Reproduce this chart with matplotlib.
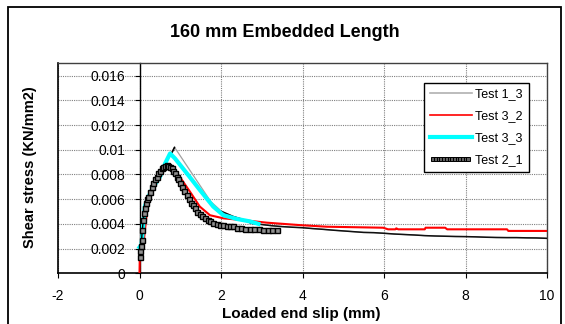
import matplotlib
matplotlib.use("Agg")
import matplotlib.pyplot as plt
from matplotlib.patches import Rectangle
from matplotlib.lines import Line2D
from matplotlib.legend_handler import HandlerLine2D

plt.rcParams['font.family'] = ['Liberation Sans', 'DejaVu Sans']

title = "160 mm Embedded Length"
xlabel = "Loaded end slip (mm)"
ylabel = "Shear stress (KN/mm2)"
xticks = [-2, 0, 2, 4, 6, 8, 10]
yticks = [0, 0.002, 0.004, 0.006, 0.008, 0.01, 0.012, 0.014, 0.016]
ytick_labels = ["0", "0.002", "0.004", "0.006", "0.008", "0.01", "0.012", "0.014", "0.016"]
series_names = ["Test 1_3", "Test 3_2", "Test 3_3", "Test 2_1"]

t13_x = [0.0, 0.02, 0.05, 0.1, 0.15, 0.25, 0.4, 0.55, 0.7, 0.8, 0.86, 1.75, 2.02, 2.3, 2.5,
         2.75, 3.0, 3.25, 3.5, 3.75, 4.0, 4.25, 4.5, 4.75, 5.0, 5.25, 5.5, 5.75, 6.0, 6.25,
         6.5, 6.75, 7.0, 7.25, 7.5, 7.75, 8.0, 8.25, 8.5, 8.75, 9.0, 9.25, 9.5, 9.75, 10.0]
t13_y = [0.0015, 0.0020, 0.0030, 0.0045, 0.0057, 0.0064, 0.0075, 0.0086, 0.0094, 0.0098, 0.0102,
         0.0058, 0.0050, 0.0046, 0.0044,
         0.00404, 0.00395, 0.00385, 0.00378, 0.00373, 0.00369, 0.00362, 0.00356, 0.00349, 0.00343,
         0.00337, 0.00331, 0.00329, 0.00324, 0.00318, 0.00314, 0.00310, 0.00305, 0.00302, 0.00300,
         0.00298, 0.00297, 0.00295, 0.00292, 0.00290, 0.00289, 0.00289, 0.00287, 0.00286, 0.00283]

t32_x = [0.0, 0.01, 0.09, 0.18, 0.26, 0.42, 0.58, 0.71, 0.99, 1.24, 1.48, 1.73, 2.06, 2.55,
         3.12, 3.94, 4.6, 5.98, 6.1, 6.28, 6.3, 6.35, 7.0, 7.02, 7.5, 7.55, 9.02, 9.05, 10.0]
t32_y = [0.0, 0.0019, 0.00215, 0.0049, 0.0062, 0.0073, 0.0084, 0.00863, 0.0078, 0.0066, 0.0054,
         0.0047, 0.00445, 0.0043, 0.0041, 0.0039, 0.00377, 0.00369, 0.00356, 0.00356, 0.00364,
         0.00356, 0.00356, 0.00369, 0.00369, 0.00356, 0.00356, 0.00343, 0.00343]

t33_x = [0.0, 0.05, 0.09, 0.13, 0.22, 0.34, 0.5, 0.63, 0.75, 0.87, 1.16, 1.48, 1.81, 2.06,
         2.39, 2.71, 2.92]
t33_y = [0.0021, 0.0023, 0.0038, 0.0054, 0.0062, 0.0070, 0.0078, 0.0089, 0.0097, 0.0093,
         0.0081, 0.00675, 0.0054, 0.0047, 0.0044, 0.0042, 0.0040]

t21_x = [0.0, 0.01, 0.03, 0.05, 0.07, 0.09, 0.11, 0.13, 0.16, 0.19,
         0.22, 0.26, 0.30, 0.34, 0.38, 0.42, 0.46, 0.50, 0.54, 0.58,
         0.62, 0.67, 0.71, 0.75, 0.79, 0.83, 0.87, 0.91, 0.95, 1.00,
         1.05, 1.10, 1.16, 1.21, 1.26, 1.31, 1.36, 1.42, 1.48, 1.54,
         1.60, 1.67, 1.74, 1.81, 1.89, 1.97, 2.05, 2.14, 2.22, 2.30,
         2.40, 2.50, 2.60, 2.71, 2.82, 2.93, 3.04, 3.15, 3.26, 3.37]
t21_y = [0.0013, 0.0018, 0.0022, 0.0027, 0.0035, 0.0043, 0.0049, 0.0053, 0.0057, 0.0060,
         0.0062, 0.0066, 0.0070, 0.0073, 0.0076, 0.0078, 0.0081, 0.0083, 0.0085, 0.0086,
         0.0087, 0.0088, 0.0087, 0.0086, 0.0085, 0.0083, 0.0081, 0.0078, 0.0076, 0.0073,
         0.0070, 0.0067, 0.0063, 0.0060, 0.0057, 0.0055, 0.0053, 0.0050, 0.0048, 0.0046,
         0.0045, 0.0043, 0.0042, 0.0041, 0.0040, 0.0039, 0.0039, 0.0038, 0.0038, 0.0038,
         0.0037, 0.0037, 0.0036, 0.0036, 0.0036, 0.0036, 0.0035, 0.0035, 0.0035, 0.0035]

W, H = 565, 324
fig = plt.figure(figsize=(W / 100, H / 100), dpi=100)
ax = fig.add_axes([58 / W, 1 - 273.3 / H, (547 - 58) / W, (273.3 - 63.3) / H])

# Outer chart frame
fig.patches.append(Rectangle((8.3 / W, -0.1), (561 - 8.3) / W, 1.1 - 6.7 / H,
                             transform=fig.transFigure, fill=False, edgecolor='black',
                             linewidth=1.3))

# Test 1_3: thin gray line; its densely sampled parts render dark (black overlay)
ax.plot(t13_x, t13_y, color='#a0a0a0', lw=0.9, zorder=3)
ax.plot(t13_x[9:11], t13_y[9:11], color='black', lw=1.2, zorder=3,
        solid_capstyle='round')
ax.plot(t13_x[12:], t13_y[12:], color='#101010', lw=1.1, zorder=3)
ax.plot(t32_x, t32_y, color='#ff0000', lw=1.5, zorder=4)
ax.plot(t33_x, t33_y, color='#00ffff', lw=3, zorder=5)
ax.plot(t21_x, t21_y, color='black', lw=1.0, marker='s', ms=3.6, mfc='#909090',
        mec='black', mew=1.0, zorder=6)

ax.set_xlim(-2, 10)
ax.set_ylim(0, 0.017)
ax.set_xticks(xticks)
ax.set_xticklabels([str(v) for v in xticks])
ax.set_yticks(yticks)
ax.set_yticklabels(ytick_labels)

ax.spines['left'].set_position(('data', 0))
ax.spines['left'].set_color('black')
ax.spines['left'].set_linewidth(1.0)
ax.spines['bottom'].set_color('black')
ax.spines['bottom'].set_linewidth(1.2)
for s in ['top', 'right']:
    ax.spines[s].set_color('#404040')
    ax.spines[s].set_linewidth(1.0)
ax.axvline(-2, color='black', lw=1.2, clip_on=False, zorder=2)

ax.grid(True, color='#808080', linestyle=(0, (1, 1)), linewidth=0.8, zorder=0)
ax.set_axisbelow(True)

ax.tick_params(axis='y', direction='out', length=3.6, width=0.8, pad=6.5, labelsize=10)
ax.tick_params(axis='x', direction='out', length=3.6, width=0.8, pad=7.5, labelsize=10)

fig.text(285 / W, 1 - 37.3 / H, title, ha='center', va='baseline', fontsize=13,
         fontweight='bold')
fig.text(301 / W, 1 - 318.3 / H, xlabel, ha='center', va='baseline', fontsize=11,
         fontweight='bold')
fig.text(34.3 / W, 1 - 167.5 / H, ylabel, ha='center', va='baseline', rotation=90,
         rotation_mode='anchor', fontsize=10.5, fontweight='bold')

h13 = Line2D([], [], color='#b0b0b0', lw=1.2)
h32 = Line2D([], [], color='#ff0000', lw=1.2)
h33 = Line2D([], [], color='#00ffff', lw=3)
h21 = Line2D([], [], color='black', lw=1.0, marker='s', ms=2.4, mfc='#606060', mec='black',
             mew=0.7)
leg = fig.legend([h13, h32, h33, h21], series_names, loc='upper left',
                 bbox_to_anchor=(424 / W, 1 - 82.7 / H), borderaxespad=0, fontsize=9,
                 frameon=True, fancybox=False, edgecolor='black', framealpha=1,
                 handlelength=3.4, handletextpad=0.25, labelspacing=0.8, borderpad=0.45,
                 handler_map={h21: HandlerLine2D(numpoints=14)})
leg.get_frame().set_linewidth(1.0)

fig.savefig('out.png', dpi=100)
